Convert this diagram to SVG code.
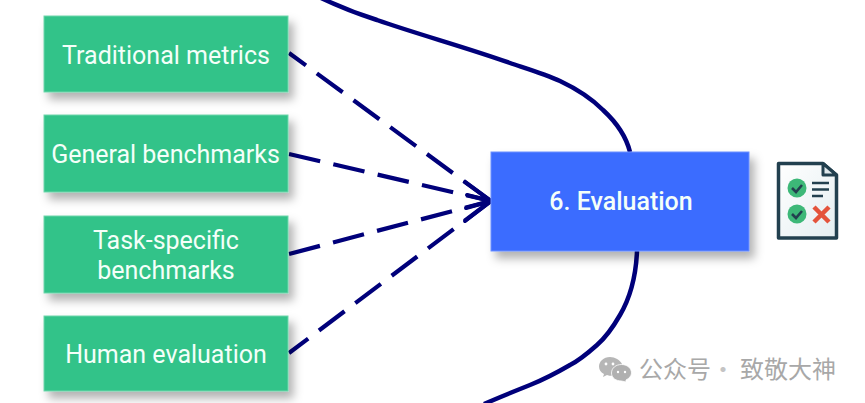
<svg xmlns="http://www.w3.org/2000/svg" width="865" height="403" viewBox="0 0 865 403">
<defs>
<filter id="sh" x="-10%" y="-15%" width="125%" height="140%"><feDropShadow dx="5" dy="7" stdDeviation="5" flood-color="#000" flood-opacity="0.3"/></filter>
<filter id="sf" x="-10%" y="-10%" width="120%" height="120%"><feGaussianBlur stdDeviation="0.4"/></filter>
<linearGradient id="paper" x1="0" y1="0" x2="1" y2="1"><stop offset="0" stop-color="#ffffff"/><stop offset="1" stop-color="#e4eef1"/></linearGradient>
</defs>
<style>
.g{fill:#32c389;stroke:#6fd6ab;stroke-width:1;filter:url(#sh)}
.b{fill:#3b6cff;stroke:#6b8fff;stroke-width:1;filter:url(#sh)}
.t{font-family:Roboto,"Liberation Sans",sans-serif;font-size:25px;fill:#f4fff9;text-anchor:middle}
.d{fill:none;stroke:#00007a;stroke-width:4.2;stroke-dasharray:32 13.5}
.s{fill:none;stroke:#00007a;stroke-width:4.5}
.w{font-family:"Noto Sans CJK SC",sans-serif;font-size:24px;fill:#a8a8a8}
.e{fill:#fff}
</style>
<g id="connectors">
<path class="s" d="M321 -2 C340 7 358 14 377 20 C420 35 465 47 510 63 C528 69 545 74 560 81 C577 89 591 98 603 110 C616 122 626 136 630 152"/>
<path class="s" d="M637 251 C636 275 630 298 620 315 C612 329 605 338 597 345 C588 353 580 360 570 365 C558 372 545 379 530 385 C515 391 500 397 484 404"/>
<path class="d" stroke-dashoffset="11" d="M289 53 L491 201"/>
<path class="d" d="M289 154 L491 201"/>
<path class="d" d="M289 254 L491 201"/>
<path class="d" stroke-dashoffset="8" d="M289 353 L491 201"/>
<path d="M465 182 L491 201 L465 221 M467 195 L491 201 L466 208" fill="none" stroke="#00007a" stroke-width="4" stroke-linecap="round" stroke-linejoin="round"/>
</g>
<g id="node-traditional"><rect class="g" x="44" y="16" width="244" height="76"/><text class="t" x="166" y="64">Traditional metrics</text></g>
<g id="node-general"><rect class="g" x="44" y="115" width="244" height="77"/><text class="t" x="165.500" y="163">General benchmarks</text></g>
<g id="node-task"><rect class="g" x="44" y="216" width="244" height="77"/><text class="t" x="166" y="249">Task-specific</text><text class="t" x="166" y="279">benchmarks</text></g>
<g id="node-human"><rect class="g" x="44" y="316" width="244" height="75"/><text class="t" x="166" y="363">Human evaluation</text></g>
<g id="node-evaluation"><rect class="b" x="491" y="152" width="258" height="99"/><text class="t" x="621" y="210" style="font-weight:500">6. Evaluation</text></g>
<g id="icon-checklist" filter="url(#sf)">
<path d="M778.500 163.500 H823 L836.500 175 V238 H778.500 Z" fill="url(#paper)" stroke="#24414f" stroke-width="3.500" stroke-linejoin="round"/>
<path d="M823 163.500 V175 H836.500 Z" fill="#dfe8ec" stroke="#24414f" stroke-width="3" stroke-linejoin="round"/>
<circle cx="797" cy="188" r="9.500" fill="#3cb878"/><path d="M792 188 L796 192 L802 185" fill="none" stroke="#24414f" stroke-width="2.600"/>
<circle cx="797" cy="214" r="9.500" fill="#3cb878"/><path d="M792 214 L796 218 L802 211" fill="none" stroke="#24414f" stroke-width="2.600"/>
<path d="M812 183 H829 M812 189.500 H829 M812 196 H823" stroke="#24414f" stroke-width="2.600" fill="none"/>
<path d="M814 207 L829 222 M829 207 L814 222" stroke="#e4533a" stroke-width="4.500" fill="none"/>
</g>
<g id="watermark">
<path d="M610 357 C603.500 357 599 361.500 599 366.500 C599 370 601 372.500 604 374 L603 377 L607 375 C610 376 612 376 614 375.500 L622 364 C620 360 615 357 610 357 Z" fill="#b6b6b6"/>
<path d="M621.500 364.500 C616 364.500 611.500 368 611.500 373 C611.500 378 616 381 621.500 381 L626 382 L626 380 C629 378.500 631.500 376 631.500 373 C631.500 368 627 364.500 621.500 364.500 Z" fill="#b0b0b0" stroke="#fff" stroke-width="0.800"/>
<circle class="e" cx="606" cy="364" r="1.400"/><circle class="e" cx="613" cy="364" r="1.400"/>
<circle class="e" cx="618" cy="372" r="1.200"/><circle class="e" cx="625" cy="372" r="1.200"/>
<text class="w" x="639" y="378">公众号</text>
<text class="w" x="711" y="378" style="fill:#c4c4c4">·</text>
<text class="w" x="740" y="378">致敬大神</text>
</g>
</svg>
